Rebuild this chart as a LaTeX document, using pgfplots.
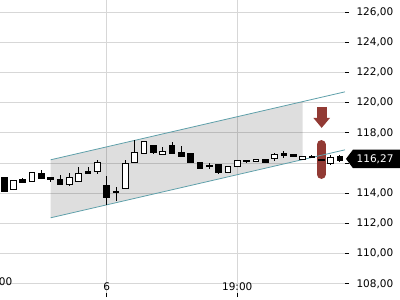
\documentclass[border=0pt]{standalone}
\usepackage{pgfplots}
\pgfplotsset{compat=1.18}
\usetikzlibrary{arrows.meta}
\usepackage{fontspec}
\setmainfont{DejaVu Sans}
\definecolor{gridc}{RGB}{215,215,215}
\definecolor{teal1}{RGB}{95,160,170}
\definecolor{mark1}{RGB}{146,58,52}
% #1 x, #2 low, #3 body bottom, #4 body top, #5 high, #6 body fill
\newcommand{\cndl}[6]{%
 \pgfmathsetmacro\xl{#1-0.31}\pgfmathsetmacro\xr{#1+0.31}%
 \addplot[black, line width=0.8pt] coordinates {(#1,#2) (#1,#5)};
 \addplot[black, line width=0.8pt, fill=#6] coordinates {(\xl,#3) (\xr,#3) (\xr,#4) (\xl,#4)} -- cycle;
}
\begin{document}
\begin{tikzpicture}
\useasboundingbox (0pt,0pt) rectangle (400pt,-300pt);
\begin{axis}[at={(0pt,0pt)}, anchor=north west, scale only axis,
 width=345pt, height=293pt,
 xmin=-0.43, xmax=36.55, ymin=107.39, ymax=126.79,
 axis x line*=bottom, axis y line*=right, axis line style={draw=none},
 xtick={11,25}, xticklabels={6,19:00},
 extra x ticks={0.17}, extra x tick labels={00},
 extra x tick style={grid=none, major tick length=0pt},
 ytick={108,110,...,126},
 yticklabels={108{,}00,110{,}00,112{,}00,114{,}00,,118{,}00,120{,}00,122{,}00,124{,}00,126{,}00},
 grid=major, grid style={gridc, line width=0.6pt},
 tick style={black, line width=0.6pt},
 tick align=outside, major tick length=4pt,
 ticklabel style={font=\fontsize{10.5}{12}\selectfont},
 yticklabel style={xshift=4pt},
 xticklabel style={anchor=base, yshift=7pt},
 clip=false]
% channel fill
\addplot[draw=none, fill=black, fill opacity=0.13] coordinates {(5,112.37) (32,116.23) (32,120.07) (5,116.21)} -- cycle;
% marker
\addplot[mark1, line width=9pt, line cap=round] coordinates {(34,115.24) (34,117.22)};
\addplot[mark1, line width=10pt, -{Triangle[width=16pt,length=10pt]}] coordinates {(34.05,119.71) (34.05,118.32)};
% channel lines
\addplot[teal1, line width=0.8pt] coordinates {(5,116.21) (36.55,120.71)};
\addplot[teal1, line width=0.8pt] coordinates {(5,112.37) (36.55,116.87)};
% candles
\cndl{0}{114.15}{114.15}{115.07}{115.07}{black}
\cndl{1}{114.28}{114.28}{114.87}{114.87}{white}
\cndl{2}{114.68}{114.74}{114.94}{115.01}{black}
\cndl{3}{114.81}{114.81}{115.40}{115.40}{white}
\cndl{4}{115.01}{115.01}{115.34}{115.54}{black}
\cndl{5}{114.74}{114.94}{115.07}{115.07}{black}
\cndl{6}{114.61}{114.61}{114.94}{115.21}{black}
\cndl{7}{114.48}{114.61}{115.07}{115.34}{white}
\cndl{8}{114.74}{114.81}{115.34}{115.74}{white}
\cndl{9}{115.27}{115.34}{115.47}{115.74}{black}
\cndl{10}{115.27}{115.47}{116.07}{116.20}{white}
\cndl{11}{113.22}{113.75}{114.54}{115.14}{black}
\cndl{12}{113.48}{114.08}{114.15}{114.41}{black}
\cndl{13}{114.34}{114.34}{116.00}{116.20}{white}
\cndl{14}{116.07}{116.07}{116.73}{117.52}{white}
\cndl{15}{116.66}{116.66}{117.46}{117.46}{white}
\cndl{16}{116.60}{116.73}{117.19}{117.19}{black}
\cndl{17}{116.60}{116.60}{116.79}{117.06}{white}
\cndl{18}{116.66}{116.66}{117.13}{117.39}{black}
\cndl{19}{116.46}{116.46}{116.73}{117.13}{black}
\cndl{20}{116.00}{116.07}{116.66}{116.66}{black}
\cndl{21}{115.67}{115.67}{116.07}{116.07}{black}
\cndl{22}{115.60}{115.74}{115.87}{116.00}{white}
\cndl{23}{115.27}{115.40}{115.93}{115.93}{black}
\cndl{24}{115.40}{115.40}{115.74}{115.74}{white}
\cndl{25}{115.74}{115.74}{116.20}{116.20}{white}
\cndl{26}{116.00}{116.13}{116.20}{116.20}{black}
\cndl{27}{116.13}{116.13}{116.26}{116.26}{white}
\cndl{28}{116.07}{116.07}{116.26}{116.26}{black}
\cndl{29}{116.13}{116.33}{116.60}{116.66}{white}
\cndl{30}{116.33}{116.53}{116.66}{116.79}{black}
\cndl{31}{116.46}{116.46}{116.60}{116.60}{black}
\cndl{32}{116.26}{116.26}{116.46}{116.46}{white}
\cndl{33}{116.40}{116.40}{116.46}{116.53}{black}
\cndl{34}{116.20}{116.20}{116.26}{116.26}{black}
\cndl{35}{115.87}{116.00}{116.40}{116.53}{white}
\cndl{36}{116.07}{116.20}{116.46}{116.53}{black}
\coordinate (V) at (axis cs:36.55,116.27);
\end{axis}
\fill[black] ([xshift=1pt]V) -- ++(7pt,9.3pt) -- ++(60pt,0pt) -- ++(0pt,-18.6pt) -- ++(-60pt,0pt) -- cycle;
\node[anchor=west, text=white, font=\fontsize{10.5}{12}\selectfont, inner sep=0pt] at ([xshift=11.5pt]V) {116,27};
\end{tikzpicture}
\end{document}
